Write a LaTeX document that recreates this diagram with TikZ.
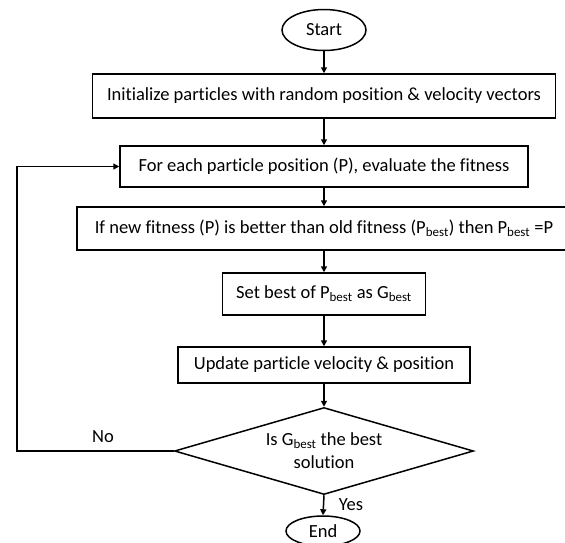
\documentclass[tikz,border=0pt]{standalone}
\usepackage{fontspec}
\setmainfont{Carlito}[Ligatures=CommonOff]
\usetikzlibrary{shapes.geometric,arrows.meta}
\begin{document}
\begin{tikzpicture}[x=1pt,y=-1pt,
  font=\fontsize{18.5}{23}\selectfont,
  box/.style={draw, line width=1.5pt, rectangle, inner sep=0pt},
  term/.style={draw, ellipse, line width=1.5pt, inner sep=0pt},
  dec/.style={draw, diamond, line width=1.5pt, inner sep=0pt, aspect=3.44, align=center},
  arr/.style={line width=1.5pt, -{Triangle[length=6pt,width=6pt]}},
  lbl/.style={inner sep=0pt}]
\useasboundingbox (0,0) rectangle (565,542);
\node[term, minimum width=84pt, minimum height=41pt] (start) at (324,30) {Start};
\node[box, minimum width=463pt, minimum height=44pt] (init) at (324,96) {Initialize particles with random position \& velocity vectors};
\node[box, minimum width=408pt, minimum height=41pt] (eval) at (324,166.5) {For each particle position (P), evaluate the fitness};
\node[box, minimum width=494pt, minimum height=43pt] (upd) at (324,228.5) {If new fitness (P) is better than old fitness (P\textsubscript{best}) then P\textsubscript{best} =P};
\node[box, minimum width=203pt, minimum height=42pt] (setb) at (324,294) {Set best of P\textsubscript{best} as G\textsubscript{best}};
\node[box, minimum width=292pt, minimum height=36pt] (vel) at (324,365) {Update particle velocity \& position};
\node[dec, minimum width=299pt, minimum height=87pt] (dia) at (324,451) {Is G\textsubscript{best} the best\\solution};
\node[term, minimum width=74pt, minimum height=30pt] (end) at (323,531) {End};
\coordinate (lp) at (17,451);
\draw[arr] (start.south) -- (start.south |- init.north);
\draw[arr] (init.south) -- (init.south |- eval.north);
\draw[arr] (eval.south) -- (eval.south |- upd.north);
\draw[arr] (upd.south) -- (upd.south |- setb.north);
\draw[arr] (setb.south) -- (setb.south |- vel.north);
\draw[arr] (vel.south) -- (vel.south |- dia.north);
\draw[arr] (dia.south) -- (end.north);
\draw[arr] (dia.west) -- (lp) |- (eval.west);
\node[lbl] (no) at (103,437) {No};
\node[lbl] (yes) at (351,505) {Yes};
\end{tikzpicture}
\end{document}
